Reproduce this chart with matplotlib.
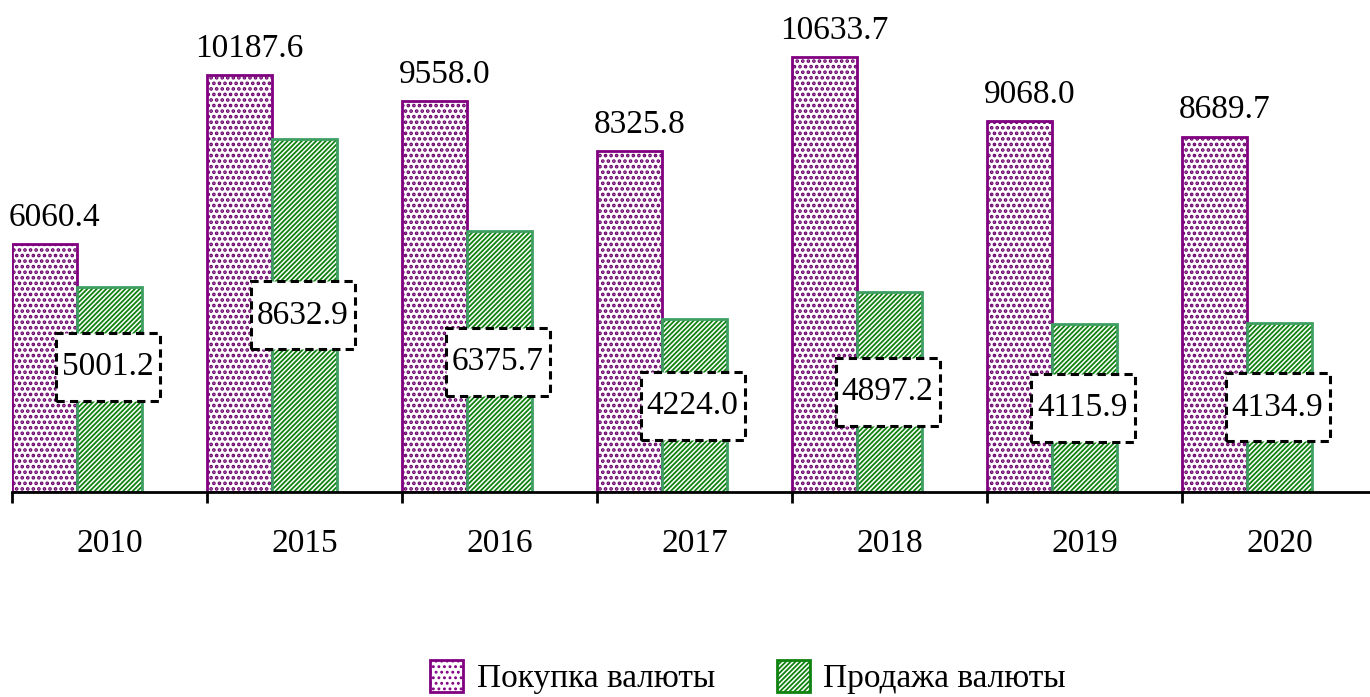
import matplotlib
matplotlib.use("Agg")
import matplotlib.pyplot as plt
import matplotlib.transforms as mtransforms
from matplotlib.patches import Patch, Rectangle
import numpy as np

plt.rcParams['font.family'] = ['Liberation Serif', 'DejaVu Serif']
plt.rcParams['hatch.linewidth'] = 1.3

years = ['2010', '2015', '2016', '2017', '2018', '2019', '2020']
buy = [6060.4, 10187.6, 9558.0, 8325.8, 10633.7, 9068.0, 8689.7]
sell = [5001.2, 8632.9, 6375.7, 4224.0, 4897.2, 4115.9, 4134.9]

purple = '#800080'
purple_dots = '#6a006a'
green_dark = '#0f820f'
green_edge = '#3f9f63'
dot_hatch = '...'
stripe_hatch = '///////'
dot_lw = 1.8
stripe_lw = 1.3


def hatch_lw(patches, lw):
    for p in patches:
        if hasattr(p, 'set_hatch_linewidth'):
            p.set_hatch_linewidth(lw)


fig = plt.figure(figsize=(13.7, 6.97), dpi=100)
ax = fig.add_axes([12/1370, 1 - 492/697, 1 - 12/1370, 492/697])

x = np.arange(len(years))
w = 1/3

# purple bars (dotted)
with plt.rc_context({'hatch.linewidth': dot_lw}):
    b1 = ax.bar(x + w/2, buy, w, color='white', edgecolor=purple_dots, hatch=dot_hatch, linewidth=0)
hatch_lw(b1, dot_lw)
ax.bar(x + w/2, buy, w, fill=False, edgecolor=purple, linewidth=2)
# green bars (striped)
b2 = ax.bar(x + 1.5*w, sell, w, color='white', edgecolor=green_dark, hatch=stripe_hatch, linewidth=0)
hatch_lw(b2, stripe_lw)
ax.bar(x + 1.5*w, sell, w, fill=False, edgecolor=green_edge, linewidth=2)

fs = 24
for i, v in enumerate(buy):
    ax.annotate(f'{v:.1f}', (x[i] + w/2 + 0.05, v), xytext=(0, 8), textcoords='offset points',
                ha='center', va='bottom', fontsize=fs)

# label of the first green bar was moved up a bit in the original
nudge = {0: 560}
for i, v in enumerate(sell):
    xc, yc = x[i] + 1.5*w - 0.01, v/2 + nudge.get(i, 0)
    trans = fig.dpi_scale_trans + mtransforms.ScaledTranslation(xc, yc, ax.transData)
    ax.add_patch(Rectangle((-0.52, -0.34), 1.04, 0.68, transform=trans, facecolor='white',
                           edgecolor='black', linewidth=2.2, linestyle=(0, (2.7, 1.7)),
                           zorder=4, clip_on=False))
    ax.text(xc, yc, f'{v:.1f}', ha='center', va='center', fontsize=fs, zorder=5)

ax.set_xlim(0, 1358/195)
ax.set_ylim(0, 492/0.04091)

for s in ['left', 'right', 'top']:
    ax.spines[s].set_visible(False)
ax.spines['bottom'].set_linewidth(2)
ax.set_yticks([])
ax.set_xticks(x)
ax.set_xticklabels([])
ax.tick_params(axis='x', which='major', direction='out', length=8, width=2)
ax.set_xticks(x + 0.5, minor=True)
ax.set_xticklabels(years, minor=True, fontsize=fs)
ax.tick_params(axis='x', which='minor', length=0, pad=26)

with plt.rc_context({'hatch.linewidth': dot_lw}):
    h1 = Patch(facecolor='white', edgecolor=purple, hatch=dot_hatch, linewidth=2)
hatch_lw([h1], dot_lw)
h2 = Patch(facecolor='white', edgecolor=green_dark, hatch=stripe_hatch, linewidth=2)
fig.legend([h1, h2], ['Покупка валюты', 'Продажа валюты'], loc='center',
           bbox_to_anchor=(0.546, 1 - 677/697), ncol=2, frameon=False, fontsize=fs,
           handlelength=1.0, handleheight=1.1, handletextpad=0.4, columnspacing=1.85)

fig.savefig('out.png', dpi=100)
